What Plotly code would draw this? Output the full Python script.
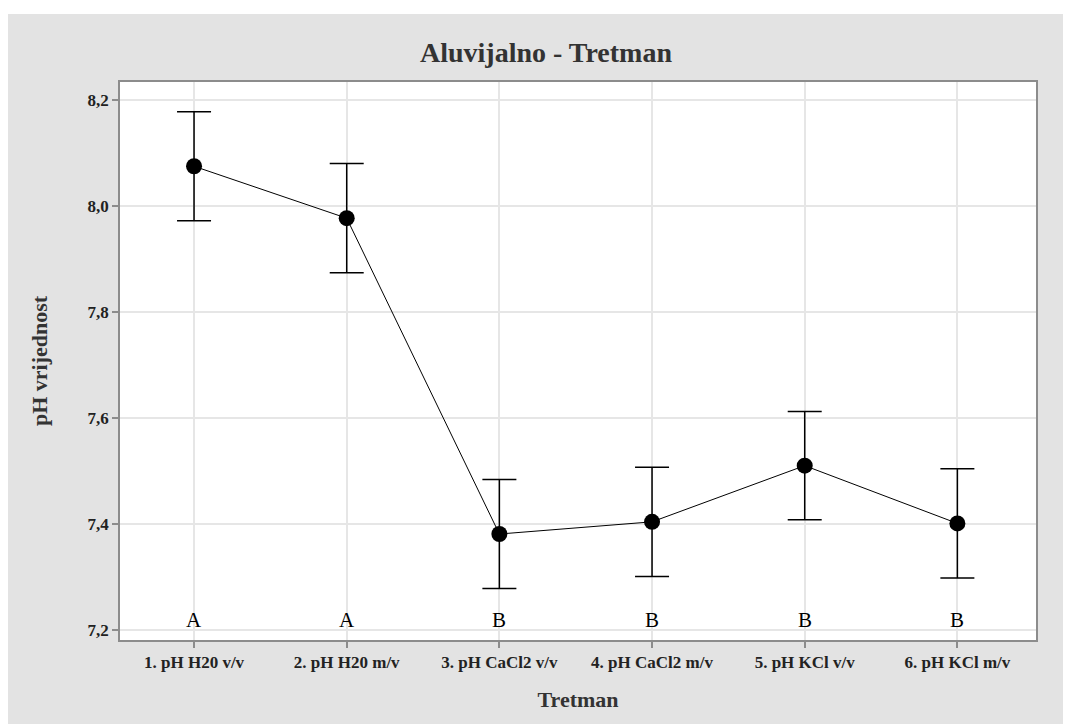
import plotly.graph_objects as go

categories = ["1. pH H20 v/v", "2. pH H20 m/v", "3. pH CaCl2 v/v",
              "4. pH CaCl2 m/v", "5. pH KCl v/v", "6. pH KCl m/v"]
means = [8.075, 7.977, 7.381, 7.404, 7.510, 7.401]
errors = [0.103, 0.103, 0.103, 0.103, 0.102, 0.103]
groups = ["A", "A", "B", "B", "B", "B"]
y_ticks = [7.2, 7.4, 7.6, 7.8, 8.0, 8.2]

SERIF = "Liberation Serif, Times New Roman, serif"

# plot area in figure pixels
L, R, T, B = 112, 1028, 74, 632
W, H = 1071, 724
PW, PH = R - L, B - T

fig = go.Figure()
fig.add_trace(go.Scatter(
    x=list(range(len(categories))), y=means,
    mode="lines+markers",
    line=dict(color="black", width=1),
    marker=dict(color="black", size=16),
    error_y=dict(type="data", array=errors, visible=True,
                 color="black", thickness=1.5, width=17),
    showlegend=False, hoverinfo="skip",
))

for i, g in enumerate(groups):
    fig.add_annotation(x=i, y=y_ticks[0], text=g, showarrow=False,
                       xref="x", yref="y", yanchor="bottom", yshift=-4,
                       font=dict(family=SERIF, size=21, color="black"))

# white strip above grey frame
fig.add_shape(type="rect", xref="paper", yref="paper", layer="below",
              x0=-0.3, x1=1.3, y0=(B - 6) / PH, y1=1.5,
              fillcolor="white", line=dict(width=0))

fig.update_layout(
    width=W, height=H,
    margin=dict(l=L, r=W - R, t=T, b=H - B),
    paper_bgcolor="#e3e3e3",
    plot_bgcolor="white",
    separators=", ",
    title=dict(text="<b>Aluvijalno - Tretman</b>", x=(538 - L) / PW, xref="paper",
               xanchor="center", y=1 - 44 / H, yanchor="middle",
               font=dict(family=SERIF, size=28, color="#333333")),
    xaxis=dict(
        range=[-0.485, 5.515],
        tickmode="array", tickvals=list(range(len(categories))), ticktext=categories,
        showgrid=True, gridcolor="#e6e6e6", gridwidth=1.5,
        showline=True, mirror=True, linecolor="#8c8c8c", linewidth=1.5,
        ticks="outside", ticklen=6, tickcolor="#8c8c8c", tickwidth=1.5,
        tickfont=dict(family=SERIF, size=17, color="#222222", weight="bold"),
        title=dict(text="<b>Tretman</b>", standoff=20,
                   font=dict(family=SERIF, size=22, color="#333333")),
        zeroline=False,
    ),
    yaxis=dict(
        range=[7.181, 8.234],
        tickmode="array", tickvals=y_ticks,
        tickformat=".1f",
        showgrid=True, gridcolor="#e6e6e6", gridwidth=1.5,
        showline=True, mirror=True, linecolor="#8c8c8c", linewidth=1.5,
        ticks="outside", ticklen=6, tickcolor="#8c8c8c", tickwidth=1.5,
        tickfont=dict(family=SERIF, size=17, color="#222222", weight="bold"),
        title=dict(text="<b>pH vrijednost</b>", standoff=34,
                   font=dict(family=SERIF, size=22, color="#333333")),
        zeroline=False,
    ),
)

fig.write_html("out.html")
